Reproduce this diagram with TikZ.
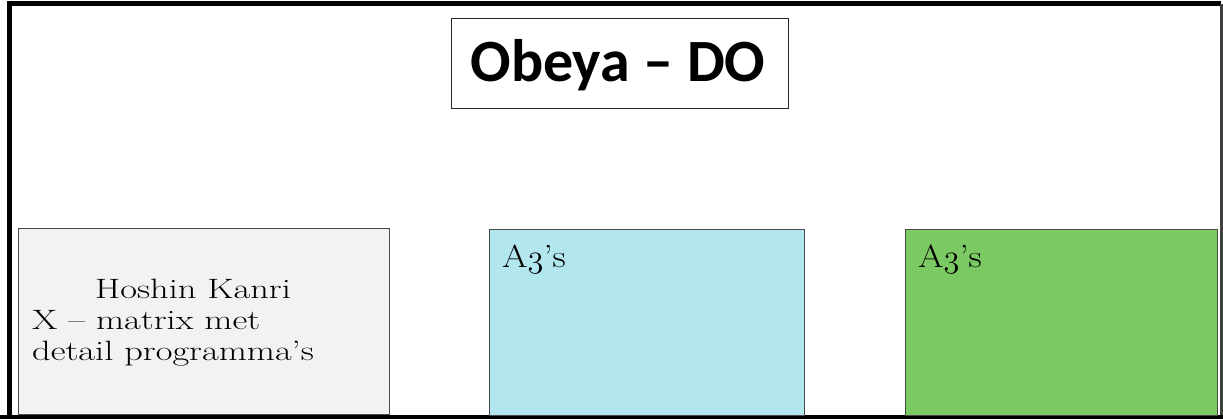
\documentclass[tikz,border=0pt]{standalone}
\usepackage{fontspec}
\usepackage{graphicx}
\newfontfamily\titlefont{Carlito}
\newfontfamily\bodyfont[FakeStretch=1.3]{Latin Modern Roman}
\newfontfamily\afont[FakeStretch=1.15]{Latin Modern Roman}
\newcommand{\oldthree}{\scalebox{1.3}{\usefont{OML}{cmm}{m}{it}3}}
\definecolor{boxgray}{HTML}{F2F2F2}
\definecolor{boxblue}{HTML}{B3E7EF}
\definecolor{boxgreen}{HTML}{7BC962}
\definecolor{edgegray}{HTML}{4A4A4A}
\begin{document}
\begin{tikzpicture}[x=1pt,y=1pt,
  panel/.style={draw=edgegray, line width=1.2pt, anchor=north west, inner sep=0pt, minimum height=186pt},
  bodytext/.style={inner sep=0pt, anchor=base west, font=\bodyfont\fontsize{28}{31}\selectfont},
  atext/.style={inner sep=0pt, anchor=base west, font=\afont\fontsize{32}{36}\selectfont}]
\useasboundingbox (0,0) rectangle (1223,-419);
\fill[white] (0,0) rectangle (1223,-419);
% outer frame
\draw[line width=5pt] (9,-419) -- (9,-4) -- (1221,-4);
\draw[line width=2.5pt, black!75] (1221.5,-4) -- (1221.5,-419);
\draw[line width=4pt] (0,-417) -- (1223,-417);
% title
\node[draw=black!85, line width=1pt, anchor=north west, minimum width=337pt, minimum height=90pt, inner sep=0pt] (title) at (451,-18) {};
\node[anchor=base, inner sep=0pt, font=\titlefont\bfseries\fontsize{60}{70}\selectfont] (titletext) at (618,-82) {Obeya – DO};
% panels
\node[panel, fill=boxgray, minimum width=371pt] (hoshin) at (18,-228) {};
\node[panel, fill=boxblue, minimum width=315pt] (blue) at (489,-229) {};
\node[panel, fill=boxgreen, minimum width=312pt] (green) at (905,-229) {};
% texts
\node[bodytext] (h1) at (95,-299) {Hoshin Kanri};
\node[bodytext] (h2) at (32,-330) {X – matrix met};
\node[bodytext] (h3) at (32,-360) {detail programma’s};
\node[atext] (a1) at (502,-268) {A\oldthree’s};
\node[atext] (a2) at (918,-268) {A\oldthree’s};
\end{tikzpicture}
\end{document}
